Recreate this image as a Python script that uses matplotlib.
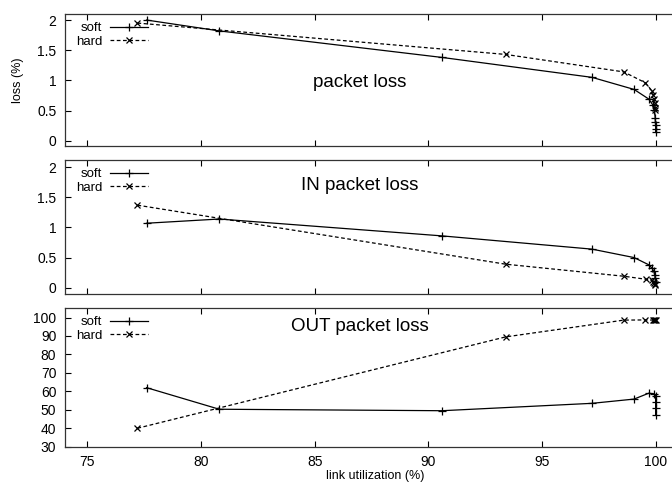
import matplotlib
matplotlib.use('Agg')
import matplotlib.pyplot as plt

plt.rcParams['font.family'] = ['Liberation Sans', 'DejaVu Sans']

# packet loss (top)
softAllX = [77.6, 80.8, 90.6, 97.2, 99.05, 99.7, 99.88, 99.95, 99.98, 99.99, 100.0, 100.0, 100.0]
softAllY = [2.0, 1.82, 1.38, 1.05, 0.85, 0.69, 0.59, 0.51, 0.37, 0.31, 0.26, 0.2, 0.15]
hardAllX = [77.2, 93.4, 98.6, 99.55, 99.83, 99.9, 99.95, 99.97, 99.98, 99.97]
hardAllY = [1.95, 1.43, 1.14, 0.96, 0.83, 0.76, 0.69, 0.62, 0.55, 0.51]

# IN packet loss (middle)
softInX = [77.6, 80.8, 90.6, 97.2, 99.05, 99.7, 99.85, 99.92, 99.96, 99.98, 100.0]
softInY = [1.07, 1.14, 0.86, 0.64, 0.5, 0.38, 0.32, 0.27, 0.21, 0.16, 0.10]
hardInX = [77.2, 93.4, 98.6, 99.57, 99.83, 99.9, 99.95, 99.97, 99.98]
hardInY = [1.37, 0.39, 0.19, 0.14, 0.12, 0.10, 0.08, 0.06, 0.05]

# OUT packet loss (bottom)
softOutX = [77.6, 80.8, 90.6, 97.2, 99.05, 99.7, 99.95, 100.0, 100.0, 100.0, 100.0]
softOutY = [62.0, 50.3, 49.5, 53.5, 55.8, 59.0, 58.6, 57.5, 54.0, 50.8, 47.2]
hardOutX = [77.2, 93.4, 98.6, 99.55, 99.9, 99.95, 99.98, 100.0]
hardOutY = [40.0, 89.5, 98.6, 98.7, 98.6, 98.6, 98.5, 98.5]

xTicks = [75, 80, 85, 90, 95, 100]
lossTicks = [0, 0.5, 1, 1.5, 2]
lossTickLabels = ['0', '0.5', '1', '1.5', '2']
outTicks = [30, 40, 50, 60, 70, 80, 90, 100]

fig = plt.figure(figsize=(6.72, 4.87), dpi=100)

W, H = 672.0, 487.0
left = 64.7 / W
width = (685.4 - 64.7) / W
xlim = (74.0, 101.31)

panels = [
    # (top px, bottom px, soft, hard, ylim, ticks, ticklabels, title, title y)
    (14.0, 145.7, (softAllX, softAllY), (hardAllX, hardAllY), (-0.083, 2.1),
     lossTicks, lossTickLabels, 'packet loss', 0.96),
    (160.0, 294.0, (softInX, softInY), (hardInX, hardInY), (-0.105, 2.12),
     lossTicks, lossTickLabels, 'IN packet loss', 1.69),
    (308.3, 446.7, (softOutX, softOutY), (hardOutX, hardOutY), (30, 105),
     outTicks, [str(t) for t in outTicks], 'OUT packet loss', 95.0),
]

for i, (top, bot, soft, hard, ylim, yt, ytl, title, ty) in enumerate(panels):
    ax = fig.add_axes([left, 1 - bot / H, width, (bot - top) / H])
    ax.plot(soft[0], soft[1], 'k-', marker='+', markersize=6, markeredgewidth=0.9,
            linewidth=0.9, label='soft')
    ax.plot(hard[0], hard[1], 'k--', marker='x', markersize=5, markeredgewidth=0.9,
            linewidth=0.9, dashes=(3, 2), label='hard')
    ax.set_xlim(*xlim)
    ax.set_ylim(*ylim)
    ax.set_xticks(xTicks)
    ax.set_yticks(yt)
    ax.set_yticklabels(ytl)
    ax.tick_params(direction='in', length=4, width=0.8, labelsize=10,
                   top=True, bottom=True, left=True, right=False, pad=6)
    if i < 2:
        ax.set_xticklabels([])
    for s in ax.spines.values():
        s.set_linewidth(0.9)
        s.set_color('#333333')
    ax.text(87.0, ty, title, fontsize=13.5, ha='center', va='center')
    ax.legend(loc='upper left', markerfirst=False, frameon=False, fontsize=9.5,
              handlelength=2.9, handletextpad=0.6, labelspacing=0.1,
              borderaxespad=0.2, bbox_to_anchor=(0.005, 1.0))

fig.text(375 / W, 1 - 476 / H, 'link utilization (%)', ha='center', va='center', fontsize=9)
fig.text(18 / W, 1 - 80 / H, 'loss (%)', ha='center', va='center', rotation=90, fontsize=9)

fig.savefig('out.png', dpi=100)
